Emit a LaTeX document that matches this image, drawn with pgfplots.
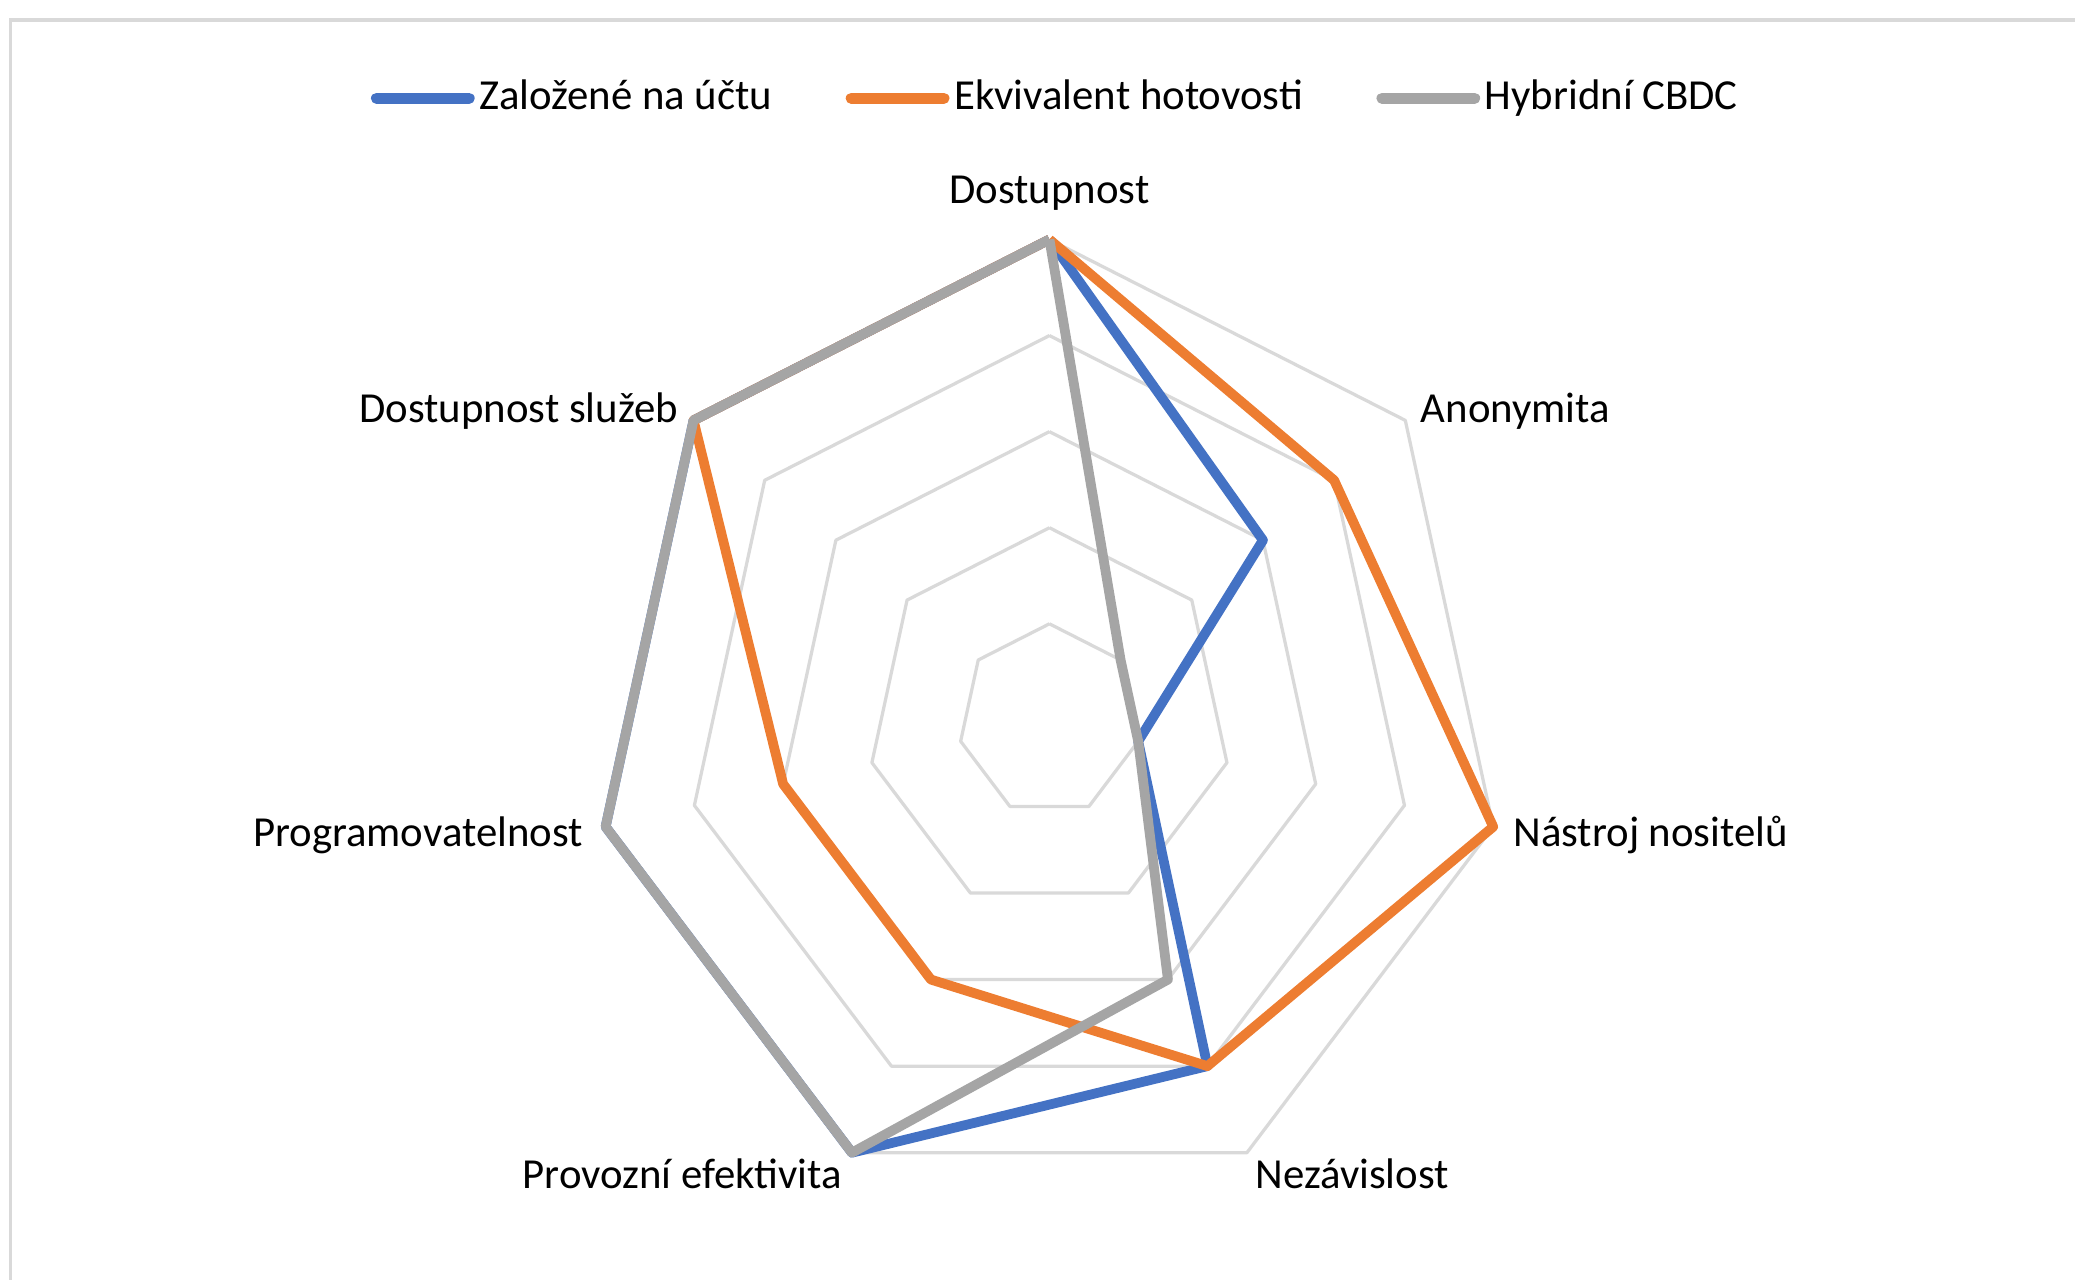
\documentclass[border=0pt]{standalone}
\usepackage{pgfplots}
\pgfplotsset{compat=1.18}
\usepackage{fontspec}
\setmainfont{Carlito}
\definecolor{cblue}{HTML}{4472C4}
\definecolor{corange}{HTML}{ED7D31}
\definecolor{cgray}{HTML}{A5A5A5}
\definecolor{cgrid}{HTML}{D9D9D9}
\begin{document}
\fontsize{9.2}{11}\selectfont
\begin{tikzpicture}[x=1cm,y=1cm]
\useasboundingbox (0,0) rectangle (15.68,9.67);
\draw[cgrid, line width=0.8pt] (0.08,-1) -- (0.08,9.52) -- (16.5,9.52);
\begin{axis}[
  at={(7.93cm,4.23cm)}, anchor=center,
  scale only axis, width=6.88cm, height=7.26cm,
  xmin=-5, xmax=5, ymin=-5, ymax=5, enlargelimits=false,
  axis lines=none, clip=false,
  legend columns=3,
  legend style={draw=none, fill=none, at={(0.508,1.147)}, anchor=center,
    font=\fontsize{9.2}{11}\selectfont,
    nodes={inner sep=1pt},
    /tikz/every even column/.append style={column sep=0.52cm}},
  legend image code/.code={\draw[#1, line width=2.4pt, line cap=round] (0cm,0cm) -- (0.7cm,0cm);},
  every axis plot/.append style={line join=round},
]
% grid rings
\foreach \r in {1,2,3,4,5} {
  \addplot[cgrid, line width=0.7pt, data cs=polar, forget plot, mark=none] coordinates {(90,\r) (38.5714,\r) (-12.8571,\r) (-64.2857,\r) (-115.7143,\r) (-167.1429,\r) (-218.5714,\r) (90,\r)};
}
% Založené na účtu
\addplot[cblue, line width=2.1pt, data cs=polar, mark=none] coordinates {(90,5) (38.5714,3) (-12.8571,1) (-64.2857,4) (-115.7143,5) (-167.1429,5) (-218.5714,5) (90,5)};
\addlegendentry{Založené na účtu}
% Ekvivalent hotovosti
\addplot[corange, line width=2.1pt, data cs=polar, mark=none] coordinates {(90,5) (38.5714,4) (-12.8571,5) (-64.2857,4) (-115.7143,3) (-167.1429,3) (-218.5714,5) (90,5)};
\addlegendentry{Ekvivalent hotovosti}
% Hybridní CBDC
\addplot[cgray, line width=2.1pt, data cs=polar, mark=none] coordinates {(90,5) (38.5714,1) (-12.8571,1) (-64.2857,3) (-115.7143,5) (-167.1429,5) (-218.5714,5) (90,5)};
\addlegendentry{Hybridní CBDC}
\end{axis}
\node[inner sep=0pt] at (7.93,8.21) {Dostupnost};
\node[inner sep=0pt, anchor=west] at (10.73,6.56) {Anonymita};
\node[inner sep=0pt, anchor=west] at (11.43,3.36) {Nástroj nositelů};
\node[inner sep=0pt, anchor=west] at (9.48,0.80) {Nezávislost};
\node[inner sep=0pt, anchor=east] at (6.37,0.80) {Provozní efektivita};
\node[inner sep=0pt, anchor=east] at (4.41,3.36) {Programovatelnost};
\node[inner sep=0pt, anchor=east] at (5.13,6.56) {Dostupnost služeb};
\end{tikzpicture}
\end{document}
